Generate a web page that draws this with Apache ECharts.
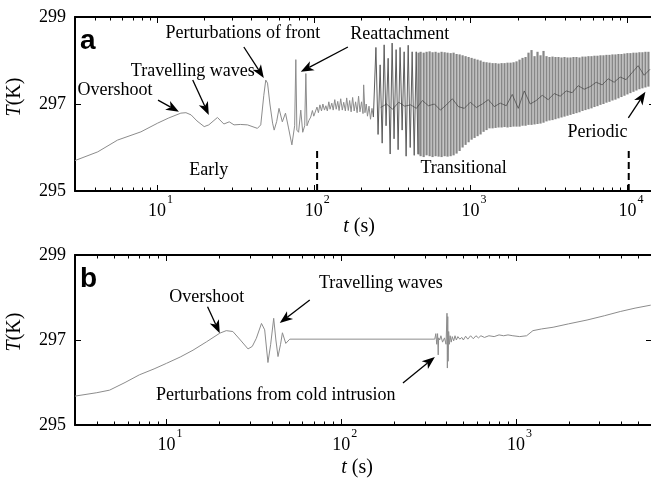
<!DOCTYPE html>
<html>
<head>
<meta charset="utf-8">
<script src="https://cdn.jsdelivr.net/npm/echarts@6/dist/echarts.min.js"></script>
<style>
  html, body { margin: 0; padding: 0; background: #fff; }
  #chart { width: 651px; height: 483px; }
</style>
</head>
<body>
<div id="chart"></div>
<script>
// ---------- Panel a : temperature record T(t) ----------
// early phase: warming, overshoot, travelling waves, front perturbations
const tEarlyA = [3.0, 4.19, 5.6, 7.9, 10.1, 11.9, 14.2, 15.3, 16.5, 18.0, 20.0, 21.4, 24.3, 26.7, 28.9, 31.0, 34.0, 37.8,
  43.7, 45.9, 48.0, 49.4, 50.7, 52.5, 54.6, 55.9, 58.0, 60.0, 63.0, 66.0, 69.0, 72.5, 75.5, 76.8, 78.0, 80.0, 82.6,
  85.0, 87.5, 89.0, 90.5, 93.0, 95.6, 98, 100, 104.8, 107, 109.4, 112, 114.3, 117, 119.4, 122, 124.7, 127, 130.3,
  133, 136.1, 139, 142.2, 145, 148.5, 152, 155.2, 159, 162.1, 166, 169.3, 173, 176.9, 181, 184.8, 189, 193.0, 197,
  201.6, 206, 208, 212, 216, 220, 225, 230, 235, 240];
const TEarlyA = [295.70, 295.90, 296.17, 296.36, 296.56, 296.68, 296.79, 296.80, 296.75, 296.61, 296.48, 296.52, 296.69,
  296.54, 296.59, 296.52, 296.53, 296.52, 296.44, 296.52, 297.20, 297.55, 297.48, 297.00, 296.56, 296.40, 296.60,
  296.90, 296.59, 296.79, 296.45, 296.06, 296.50, 298.02, 296.40, 296.35, 296.86, 296.35, 296.50, 297.70, 296.50,
  296.62, 296.70, 296.85, 296.72, 296.93, 296.80, 296.98, 296.84, 297.00, 296.86, 296.96, 296.84, 297.05, 296.88,
  297.02, 296.86, 297.10, 296.88, 297.06, 296.85, 297.12, 296.86, 297.04, 296.84, 297.14, 296.85, 297.08, 296.82,
  297.15, 296.84, 297.05, 296.80, 297.18, 296.82, 297.05, 296.78, 297.44, 296.80, 297.00, 296.72, 296.95, 296.65,
  296.90, 296.70];

// reattachment: large isolated spikes
const tSpikeA = [240, 249, 257, 265, 273, 281, 289, 298, 307, 316, 325, 335, 345, 355, 366, 377, 388, 400, 412, 424, 437, 450, 462];
const TSpikeA = [296.70, 298.30, 296.30, 297.90, 296.10, 298.36, 296.50, 298.05, 295.85, 298.40, 296.20, 298.25, 295.95,
  298.30, 296.40, 298.20, 295.80, 298.35, 296.00, 298.20, 295.82, 298.20, 295.85];

// transitional / periodic oscillation: each cycle as (time, trough, crest)
const tBandA = [466, 480, 502, 524, 548, 572, 598, 625, 653, 683, 713, 746, 779, 814, 851, 889, 929, 971, 1015, 1060,
  1108, 1158, 1210, 1264, 1321, 1381, 1443, 1508, 1576, 1646, 1720, 1798, 1879, 1963, 2052, 2144, 2241, 2341, 2447,
  2557, 2672, 2792, 2918, 3049, 3186, 3330, 3479, 3636, 3800, 3971, 4149, 4336, 4531, 4735, 4948, 5171, 5403, 5647,
  5901, 6166, 6444, 6734, 7037, 7353, 7684, 8030, 8391, 8769, 9164, 9576, 10007, 10457, 10928, 11419, 11933, 12470,
  13031, 13618];
const loBandA = [295.84, 295.80, 295.78, 295.82, 295.80, 295.78, 295.80, 295.79, 295.78, 295.80, 295.79, 295.80, 295.82,
  295.86, 295.92, 296.00, 296.06, 296.12, 296.18, 296.22, 296.26, 296.30, 296.36, 296.40, 296.44, 296.44, 296.45,
  296.46, 296.46, 296.47, 296.46, 296.47, 296.48, 296.48, 296.48, 296.50, 296.50, 296.52, 296.52, 296.53, 296.54,
  296.55, 296.57, 296.60, 296.62, 296.63, 296.65, 296.67, 296.69, 296.71, 296.73, 296.75, 296.77, 296.79, 296.81,
  296.84, 296.86, 296.88, 296.90, 296.93, 296.95, 296.98, 297.00, 297.03, 297.05, 297.08, 297.10, 297.13, 297.16,
  297.19, 297.22, 297.25, 297.28, 297.31, 297.34, 297.36, 297.38, 297.40];
const hiBandA = [298.18, 298.20, 298.18, 298.20, 298.21, 298.19, 298.20, 298.18, 298.20, 298.19, 298.18, 298.17, 298.18,
  298.15, 298.14, 298.12, 298.10, 298.08, 298.06, 298.04, 298.02, 298.00, 297.97, 297.96, 297.95, 297.94, 297.94,
  297.93, 297.94, 297.94, 297.95, 297.95, 297.96, 297.98, 298.02, 298.06, 298.08, 298.18, 298.24, 298.10, 298.20,
  298.12, 298.22, 298.10, 298.08, 298.09, 298.08, 298.08, 298.07, 298.08, 298.07, 298.07, 298.08, 298.08, 298.07,
  298.09, 298.09, 298.10, 298.10, 298.11, 298.11, 298.12, 298.12, 298.13, 298.13, 298.14, 298.14, 298.15, 298.15,
  298.16, 298.17, 298.17, 298.18, 298.18, 298.19, 298.19, 298.20, 298.20];

// mean (dark) trace running inside the oscillation band
const tMeanA = [267, 291, 318, 348, 380, 415, 451, 493, 538, 588, 642, 701, 765, 836, 912, 996, 1088, 1188, 1297, 1416,
  1546, 1689, 1844, 2014, 2199, 2401, 2622, 2863, 3127, 3414, 3728, 4072, 4446, 4855, 5302, 5789, 6322, 6903, 7538,
  8232, 8989, 9816, 10719, 11705, 12781, 13957];
const TMeanA = [296.92, 297.00, 296.88, 297.04, 296.95, 296.98, 296.90, 297.08, 296.96, 297.00, 296.86, 296.98, 297.12,
  296.94, 296.90, 297.04, 296.92, 297.00, 297.10, 296.94, 297.02, 296.96, 297.22, 296.90, 297.30, 297.00, 297.08,
  297.20, 297.10, 297.24, 297.18, 297.30, 297.26, 297.42, 297.34, 297.40, 297.50, 297.44, 297.58, 297.50, 297.62,
  297.56, 297.72, 297.88, 297.66, 297.80];

// regime boundaries (Early | Transitional | Periodic)
const tBoundA = [105, 10200];
const TBoundTop = 296.0;

// ---------- Panel b : temperature record T(t) ----------
const tB = [3.0, 4.0, 4.73, 5.8, 7.0, 8.5, 10, 12, 14.2, 17, 20.2, 22.0, 24.0, 26.5, 29.3, 31.0, 32.7, 35.0, 36.5, 38.1,
  39.5, 41.1, 42.3, 43.5, 45.0, 46.1, 48.2, 50.8, 343, 348, 352, 356, 359, 361, 366, 372, 380, 390, 398, 403, 405,
  407, 409, 412, 416, 420, 426, 432, 440, 448, 456, 465, 477, 490, 500, 515, 530, 550, 570, 590, 610, 630, 660, 700,
  750, 800, 850, 900, 960, 1050, 1150, 1250, 1400, 1630, 2000, 2550, 3200, 3950, 4800, 5900];
const TB = [295.68, 295.76, 295.82, 296.00, 296.18, 296.32, 296.45, 296.60, 296.76, 296.96, 297.16, 297.22, 297.20,
  297.00, 296.79, 296.85, 297.04, 297.39, 297.24, 296.47, 296.90, 297.51, 297.00, 296.61, 296.90, 297.17, 296.92,
  297.02, 297.02, 297.15, 296.90, 297.15, 296.65, 297.05, 297.00, 297.10, 296.95, 297.05, 296.90, 297.63, 296.34,
  297.55, 296.50, 297.20, 296.90, 297.10, 296.95, 297.08, 296.98, 297.10, 297.00, 297.08, 297.02, 297.06, 297.00,
  297.09, 297.02, 297.10, 297.03, 297.10, 297.05, 297.10, 297.06, 297.10, 297.08, 297.12, 297.10, 297.12, 297.10,
  297.08, 297.10, 297.22, 297.26, 297.30, 297.38, 297.47, 297.57, 297.67, 297.75, 297.82];

// ---------- axes ----------
const yTicks = [295, 297, 299];
const xDecadesA = [1, 2, 3, 4];   // exponents labelled on panel a
const xDecadesB = [1, 2, 3];      // exponents labelled on panel b

// ---------- annotations (data coordinates) ----------
const notesA = [
  ['Overshoot', 5.40, 297.32], ['Travelling waves', 16.9, 297.76], ['Perturbations of front', 35.3, 298.63],
  ['Reattachment', 353, 298.61], ['Early', 21.4, 295.48], ['Transitional', 902, 295.53], ['Periodic', 6440, 296.36]
];
const arrowsA = [
  [[10.15, 297.09], [13.8, 296.82]], [[16.9, 297.55], [21.4, 296.75]], [[35.8, 298.31], [48.0, 297.60]],
  [[165, 298.31], [82.6, 297.74]], [[10140, 296.68], [13030, 297.28]]
];
const notesB = [
  ['Overshoot', 17.0, 298.01], ['Travelling waves', 168.7, 298.34], ['Perturbations from cold intrusion', 42.2, 295.71]
];
const arrowsB = [
  [[17.2, 297.78], [20.2, 297.16]], [[66.1, 297.94], [44.5, 297.40]], [[225.6, 295.99], [343.6, 296.60]]
];

// ---------------------------------------------------------------
const SERIF = 'Liberation Serif';
const SANS = 'Liberation Sans';
const zip = (a, b) => a.map((v, i) => [v, b[i]]);

function minorTicks(maxT) {
  const out = [];
  for (let d = 1; d <= 10000; d *= 10) {
    for (let m = 2; m <= 9; m++) {
      const v = m * d;
      if (v > 3 && v < maxT) out.push([v, 297]);
    }
  }
  return out;
}

function logAxis(grid, max, pos, exps) {
  const ax = {
    gridIndex: grid, type: 'log', logBase: 10, min: 3, max: max, position: pos,
    axisLine: { onZero: false, lineStyle: { color: '#000', width: 2 } },
    axisTick: { inside: true, length: 6, lineStyle: { color: '#000', width: 1 } },
    splitLine: { show: false }, minorTick: { show: false }
  };
  if (pos === 'bottom') {
    ax.axisLabel = {
      margin: 3, showMinLabel: false, showMaxLabel: false,
      formatter: (v) => {
        const k = Math.round(Math.log10(v));
        if (Math.abs(Math.log10(v) - k) < 1e-6 && exps.includes(k)) return '{sp|}{b|10}{s|' + k + '}';
        return '';
      },
      rich: {
        sp: { width: 7 },
        b: { fontFamily: SERIF, fontSize: 18, color: '#000', lineHeight: 26, verticalAlign: 'bottom' },
        s: { fontFamily: SERIF, fontSize: 12, color: '#000', lineHeight: 14, verticalAlign: 'top', padding: [0, 0, 0, 1] }
      }
    };
  } else {
    ax.axisLabel = { show: false };
  }
  return ax;
}

function tempAxis(grid, pos) {
  return {
    gridIndex: grid, type: 'value', min: 295, max: 299, interval: 2, position: pos,
    axisLine: { onZero: false, lineStyle: { color: '#000', width: 2 } },
    axisTick: { inside: true, length: 6, lineStyle: { color: '#000', width: 1 } },
    splitLine: { show: false },
    axisLabel: pos === 'left'
      ? { margin: 9, fontFamily: SERIF, fontSize: 18, color: '#000', formatter: (v) => yTicks.includes(v) ? String(v) : '' }
      : { show: false }
  };
}

function minorTickSeries(xi, yi, maxT) {
  return {
    type: 'custom', xAxisIndex: xi, yAxisIndex: yi, silent: true, z: 5,
    data: minorTicks(maxT), encode: { x: 0, y: 1 },
    renderItem: (params, api) => {
      const cs = params.coordSys;
      const x = Math.round(api.coord([api.value(0), api.value(1)])[0]) + 0.5;
      const b = cs.y + cs.height;
      return {
        type: 'group', children: [
          { type: 'line', shape: { x1: x, y1: b, x2: x, y2: b - 3.5 }, style: { stroke: '#000', lineWidth: 1 } },
          { type: 'line', shape: { x1: x, y1: cs.y, x2: x, y2: cs.y + 3.5 }, style: { stroke: '#000', lineWidth: 1 } }
        ]
      };
    }
  };
}

function noteLabels(notes) {
  return {
    markPoint: {
      silent: true, symbol: 'rect', symbolSize: 1, itemStyle: { color: 'rgba(0,0,0,0)' },
      label: { show: true, position: 'inside', formatter: '{b}', fontFamily: SERIF, fontSize: 18, color: '#000' },
      data: notes.map(n => ({ name: n[0], coord: [n[1], n[2]] }))
    }
  };
}

const lineBase = { type: 'line', showSymbol: false, symbol: 'none', silent: true, animation: false };

const option = {
  animation: false,
  backgroundColor: '#fff',
  grid: [
    { left: 75, top: 17, width: 580, height: 174, outerBoundsMode: 'none' },
    { left: 75, top: 255, width: 577, height: 170, outerBoundsMode: 'none' }
  ],
  xAxis: [
    logAxis(0, 15000, 'bottom', xDecadesA), logAxis(0, 15000, 'top', xDecadesA),
    logAxis(1, 6000, 'bottom', xDecadesB), logAxis(1, 6000, 'top', xDecadesB)
  ],
  yAxis: [tempAxis(0, 'left'), tempAxis(0, 'right'), tempAxis(1, 'left'), tempAxis(1, 'right')],
  series: [
    // panel a
    Object.assign({}, lineBase, { xAxisIndex: 0, yAxisIndex: 0, data: zip(tEarlyA, TEarlyA),
      lineStyle: { color: '#8c8c8c', width: 1 } }),
    Object.assign({}, lineBase, { xAxisIndex: 0, yAxisIndex: 0, data: zip(tSpikeA, TSpikeA),
      lineStyle: { color: '#5c5c5c', width: 1 } }),
    {
      type: 'custom', xAxisIndex: 0, yAxisIndex: 0, silent: true,
      data: tBandA.map((t, i) => [t, loBandA[i], hiBandA[i]]), encode: { x: 0, y: [1, 2] },
      renderItem: (params, api) => {
        const p1 = api.coord([api.value(0), api.value(1)]);
        const p2 = api.coord([api.value(0), api.value(2)]);
        return { type: 'line', shape: { x1: p1[0], y1: p1[1], x2: p2[0], y2: p2[1] },
          style: { stroke: '#878787', lineWidth: 2.2 } };
      }
    },
    Object.assign({}, lineBase, { xAxisIndex: 0, yAxisIndex: 0, data: zip(tMeanA, TMeanA), z: 3,
      lineStyle: { color: '#333', width: 0.6 } }),
    Object.assign({}, lineBase, { xAxisIndex: 0, yAxisIndex: 0, data: [[tBoundA[0], 295], [tBoundA[0], TBoundTop]],
      lineStyle: { color: '#000', width: 2, type: [7, 4] } }, noteLabels(notesA)),
    Object.assign({}, lineBase, { xAxisIndex: 0, yAxisIndex: 0, data: [[tBoundA[1], 295], [tBoundA[1], TBoundTop]],
      lineStyle: { color: '#000', width: 2, type: [7, 4] } }),
    minorTickSeries(0, 0, 15000),
    // panel b
    Object.assign({}, lineBase, { xAxisIndex: 2, yAxisIndex: 2, data: zip(tB, TB),
      lineStyle: { color: '#8c8c8c', width: 1 } }, noteLabels(notesB)),
    minorTickSeries(2, 2, 6000)
  ],
  graphic: [
    { type: 'text', left: 80, top: 27, style: { text: 'a', font: 'bold 28px ' + SANS, fill: '#000' } },
    { type: 'text', left: 80, top: 265, style: { text: 'b', font: 'bold 28px ' + SANS, fill: '#000' } },
    { type: 'text', x: 15, y: 97, rotation: Math.PI / 2,
      style: { text: '{i|T}{n|(K)}', align: 'center', verticalAlign: 'middle',
        rich: { i: { fontFamily: SERIF, fontSize: 20, fontStyle: 'italic', fill: '#000' },
                n: { fontFamily: SERIF, fontSize: 20, fill: '#000' } } } },
    { type: 'text', x: 15, y: 332, rotation: Math.PI / 2,
      style: { text: '{i|T}{n|(K)}', align: 'center', verticalAlign: 'middle',
        rich: { i: { fontFamily: SERIF, fontSize: 20, fontStyle: 'italic', fill: '#000' },
                n: { fontFamily: SERIF, fontSize: 20, fill: '#000' } } } },
    { type: 'text', x: 359, y: 227,
      style: { text: '{i|t}{n| (s)}', align: 'center', verticalAlign: 'middle',
        rich: { i: { fontFamily: SERIF, fontSize: 20, fontStyle: 'italic', fill: '#000' },
                n: { fontFamily: SERIF, fontSize: 20, fill: '#000' } } } },
    { type: 'text', x: 357, y: 468,
      style: { text: '{i|t}{n| (s)}', align: 'center', verticalAlign: 'middle',
        rich: { i: { fontFamily: SERIF, fontSize: 20, fontStyle: 'italic', fill: '#000' },
                n: { fontFamily: SERIF, fontSize: 20, fill: '#000' } } } }
  ]
};

const chart = echarts.init(document.getElementById('chart'), null, { renderer: 'canvas' });
chart.setOption(option);

// Annotation arrows: shaft plus filled, notched head, placed through the axes' scales
function arrowGraphics(arrows, gridIndex) {
  const out = [];
  arrows.forEach(a => {
    const p0 = chart.convertToPixel({ gridIndex: gridIndex }, a[0]);
    const p1 = chart.convertToPixel({ gridIndex: gridIndex }, a[1]);
    const dx = p1[0] - p0[0], dy = p1[1] - p0[1];
    const len = Math.hypot(dx, dy), ux = dx / len, uy = dy / len;
    const nx = -uy, ny = ux;
    const L = 13, W = 5, notch = 3.5;
    const base = [p1[0] - ux * L, p1[1] - uy * L];
    const inner = [p1[0] - ux * (L - notch), p1[1] - uy * (L - notch)];
    out.push({ type: 'line', silent: true, z: 20,
      shape: { x1: p0[0], y1: p0[1], x2: inner[0], y2: inner[1] }, style: { stroke: '#000', lineWidth: 1.3 } });
    out.push({ type: 'polygon', silent: true, z: 20,
      shape: { points: [p1, [base[0] + nx * W, base[1] + ny * W], inner, [base[0] - nx * W, base[1] - ny * W]] },
      style: { fill: '#000' } });
  });
  return out;
}

chart.setOption({ graphic: option.graphic.concat(arrowGraphics(arrowsA, 0), arrowGraphics(arrowsB, 1)) });
</script>
</body>
</html>
